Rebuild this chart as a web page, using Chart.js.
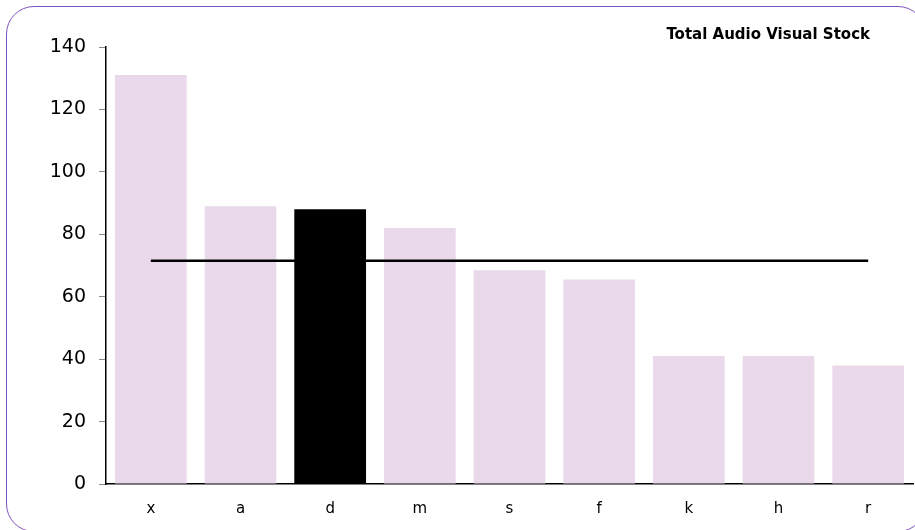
<!DOCTYPE html>
<html>
<head>
<meta charset="utf-8">
<script src="https://cdn.jsdelivr.net/npm/chart.js@4/dist/chart.umd.min.js"></script>
<style>
  html, body { margin: 0; padding: 0; background: #fff; }
  #wrap { position: relative; width: 915px; height: 530px; overflow: hidden; }
  #frame {
    position: absolute; left: 6px; top: 6px; width: 920px; height: 526px;
    border: 1.5px solid #8052bd; border-radius: 28px; box-sizing: border-box;
  }
  canvas { position: absolute; left: 0; top: 0; }
</style>
</head>
<body>
<div id="wrap">
  <div id="frame"></div>
  <canvas id="chart" width="915" height="530"></canvas>
</div>
<script>
// data
const categories = ["x", "a", "d", "m", "s", "f", "k", "h", "r"];
const stockValues = [131, 89, 88, 82, 68.5, 65.5, 41, 41, 38];
const highlightCategory = "d";
const averageValue = 71.5;
const yTicks = [0, 20, 40, 60, 80, 100, 120, 140];
const chartTitle = "Total Audio Visual Stock";

const barColors = categories.map(c => c === highlightCategory ? "#000000" : "rgb(234,217,235)");

// draws the title inside the top-right corner
const titlePlugin = {
    id: "cornerTitle",
    afterDraw(chart) {
        const ctx = chart.ctx;
        ctx.save();
        ctx.font = "bold 15px 'DejaVu Sans'";
        ctx.fillStyle = "#000";
        ctx.textAlign = "right";
        ctx.textBaseline = "middle";
        ctx.fillText(chartTitle, chart.chartArea.right - 43, 35);
        ctx.restore();
    },
};

new Chart(document.getElementById("chart"), {
    data: {
        labels: categories,
        datasets: [
            {
                type: "line",
                data: categories.map(() => averageValue),
                borderColor: "#000",
                borderWidth: 2.5,
                pointRadius: 0,
                order: 0,
            },
            {
                type: "bar",
                data: stockValues,
                backgroundColor: barColors,
                barPercentage: 0.8,
                categoryPercentage: 1.0,
                order: 1,
            },
        ],
    },
    options: {
        responsive: false,
        animation: false,
        layout: { padding: { left: 6, right: 2, top: 47, bottom: 0 } },
        plugins: {
            legend: { display: false },
            tooltip: { enabled: false },
        },
        scales: {
            x: {
                offset: true,
                grid: { display: false, drawTicks: false },
                border: { display: true, color: "#000", width: 1.5 },
                ticks: {
                    color: "#000",
                    padding: 16,
                    font: { family: "DejaVu Sans", size: 15 },
                },
                afterFit: (s) => { s.height = 46; },
            },
            y: {
                min: 0,
                max: 140,
                afterBuildTicks: (s) => { s.ticks = yTicks.map(v => ({ value: v })); },
                grid: {
                    drawOnChartArea: false,
                    drawTicks: true,
                    tickLength: 7,
                    color: "#888",
                },
                border: { display: true, color: "#000", width: 1.5 },
                ticks: {
                    color: "#000",
                    padding: 13,
                    font: { family: "DejaVu Sans", size: 19 },
                },
                afterFit: (s) => { s.width = 100; },
            },
        },
    },
    plugins: [titlePlugin],
});
</script>
</body>
</html>
